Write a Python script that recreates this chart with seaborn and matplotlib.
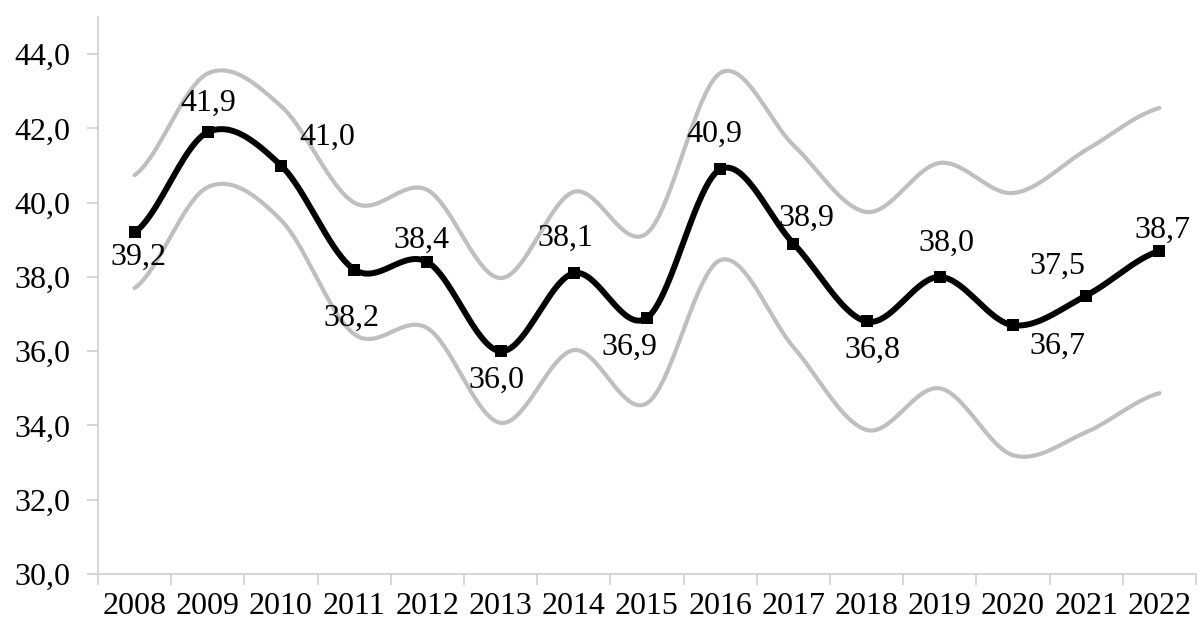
import numpy as np
import pandas as pd
import matplotlib
matplotlib.use("Agg")
import matplotlib.pyplot as plt
import seaborn as sns

# Series values
years = ["2008", "2009", "2010", "2011", "2012", "2013", "2014", "2015",
         "2016", "2017", "2018", "2019", "2020", "2021", "2022"]
mean_values = [39.2, 41.9, 41.0, 38.2, 38.4, 36.0, 38.1, 36.9,
               40.9, 38.9, 36.8, 38.0, 36.7, 37.5, 38.7]
upper_values = [40.74, 43.48, 42.6, 40.0, 40.34, 37.97, 40.29, 39.18,
                43.49, 41.55, 39.75, 41.07, 40.26, 41.42, 42.55]
lower_values = [37.70, 40.42, 39.53, 36.46, 36.62, 34.07, 36.03, 34.6,
                38.45, 36.11, 33.88, 35.0, 33.2, 33.82, 34.87]

y_ticks = [30, 32, 34, 36, 38, 40, 42, 44]

# Label offsets (points) relative to each marker
label_offsets = [(3, -18), (0, 21), (33, 20), (-2, -35), (-4, 16), (-3, -21),
                 (-6, 25), (-13, -21), (-4, 25), (9, 18), (4, -21), (5, 24),
                 (32, -15), (-21, 21), (2, 15)]


def smooth(values, steps=40):
    """Catmull-Rom style Bezier smoothing through the points."""
    p = np.asarray(values, dtype=float)
    n = len(p)
    xs, ys = [], []
    for i in range(n - 1):
        p0 = p[i - 1] if i > 0 else p[i]
        p1 = p[i]
        p2 = p[i + 1]
        p3 = p[i + 2] if i + 2 < n else p[i + 1]
        c1 = p1 + (p2 - p0) / 6.0
        c2 = p2 - (p3 - p1) / 6.0
        t = np.linspace(0, 1, steps, endpoint=(i == n - 2))
        y = ((1 - t) ** 3) * p1 + 3 * ((1 - t) ** 2) * t * c1 \
            + 3 * (1 - t) * t ** 2 * c2 + t ** 3 * p2
        xs.append(i + t)
        ys.append(y)
    return np.concatenate(xs), np.concatenate(ys)


sns.set_theme(style="white")
plt.rcParams["font.family"] = ["Liberation Serif", "DejaVu Serif"]

FS = 23

fig = plt.figure(figsize=(12, 6.25), dpi=100)
ax = fig.add_axes([0.0817, 0.0816, 0.915, 0.8912])

frames = []
for name, vals in [("upper", upper_values), ("lower", lower_values),
                   ("mean", mean_values)]:
    sx, sy = smooth(vals)
    frames.append(pd.DataFrame({"x": sx, "y": sy, "series": name}))
curves = pd.concat(frames, ignore_index=True)

for name, color, lw in [("upper", "#bfbfbf", 3.0), ("lower", "#bfbfbf", 3.0),
                        ("mean", "black", 4.3)]:
    sns.lineplot(data=curves[curves.series == name], x="x", y="y",
                 color=color, linewidth=lw, ax=ax, sort=False,
                 solid_capstyle="round", solid_joinstyle="round")

pts = pd.DataFrame({"x": np.arange(len(years)), "y": mean_values})
sns.scatterplot(data=pts, x="x", y="y", marker="s", s=70, color="black",
                edgecolor="black", linewidth=0, ax=ax, zorder=5)

for i, v in enumerate(mean_values):
    dx, dy = label_offsets[i]
    ax.annotate(f"{v:.1f}".replace(".", ","), (i, v), xytext=(dx, dy),
                textcoords="offset points", ha="center", va="center",
                fontsize=FS, color="black")

ax.set_xlim(-0.5, len(years) - 0.5)
ax.set_ylim(30, 45)
ax.set_yticks(y_ticks)
ax.set_yticklabels([f"{t:.1f}".replace(".", ",") for t in y_ticks])
ax.set_xticks(np.arange(len(years)))
ax.set_xticklabels(years)
ax.set_xticks(np.arange(len(years) + 1) - 0.5, minor=True)
ax.tick_params(axis="x", which="major", length=0, pad=13, labelsize=FS,
               colors="black")
ax.tick_params(axis="x", which="minor", length=8, width=1.2,
               color="#d0d0d0", direction="out", bottom=True)
ax.tick_params(axis="y", length=8, width=1.2, color="#d0d0d0",
               direction="out", left=True, labelsize=FS, pad=12,
               labelcolor="black")
ax.set_xlabel("")
ax.set_ylabel("")

for side in ["top", "right"]:
    ax.spines[side].set_visible(False)
for side in ["left", "bottom"]:
    ax.spines[side].set_color("#d0d0d0")
    ax.spines[side].set_linewidth(1.2)

fig.savefig("out.png", dpi=100, facecolor="white")
